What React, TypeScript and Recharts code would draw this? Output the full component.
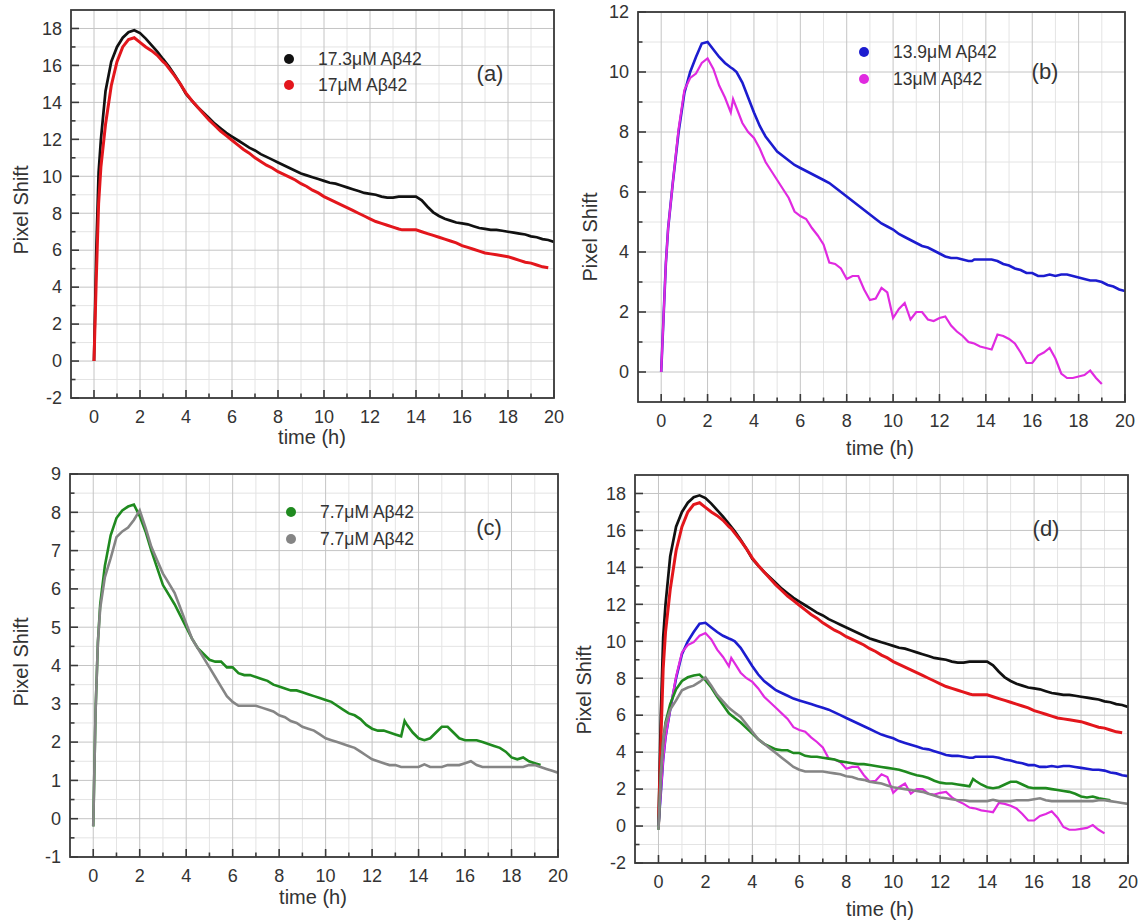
import { CartesianGrid, Line, LineChart, XAxis, YAxis } from "recharts";

// time grid shared by every trace (hours)
const hours = [
  0, 0.1, 0.2, 0.3, 0.5, 0.75, 1, 1.25, 1.5, 1.75, 2, 2.25, 2.5, 2.75, 3, 3.1, 3.25, 3.5, 3.75, 4,
  4.25, 4.5, 4.75, 5, 5.25, 5.5, 5.75, 6, 6.25, 6.5, 6.75, 7, 7.25, 7.5, 7.75, 8, 8.25, 8.5, 8.75, 9,
  9.25, 9.5, 9.75, 10, 10.25, 10.5, 10.75, 11, 11.25, 11.5, 11.75, 12, 12.25, 12.5, 12.75, 13, 13.25,
  13.4, 13.5, 13.75, 14, 14.25, 14.5, 14.75, 15, 15.25, 15.5, 15.75, 16, 16.25, 16.5, 16.75, 17,
  17.25, 17.5, 17.75, 18, 18.25, 18.5, 18.75, 19, 19.25, 19.5, 19.75, 20
];

const shift173 = [
  0, 6.0, 10.2, 12.0, 14.6, 16.2, 17.0, 17.5, 17.8, 17.9, 17.75, 17.45, 17.1, 16.75, 16.35, 16.2, 15.95, 15.5, 15.0, 14.45,
  14.1, 13.75, 13.45, 13.15, 12.85, 12.6, 12.35, 12.15, 11.95, 11.75, 11.55, 11.4, 11.2, 11.05, 10.9, 10.75, 10.6, 10.45, 10.3, 10.15,
  10.05, 9.95, 9.85, 9.75, 9.65, 9.6, 9.5, 9.4, 9.3, 9.2, 9.1, 9.05, 9.0, 8.9, 8.85, 8.85, 8.9,
  8.9, 8.9, 8.9, 8.9, 8.7, 8.35, 8.05, 7.85, 7.7, 7.6, 7.5, 7.45, 7.4, 7.3, 7.2, 7.15,
  7.1, 7.1, 7.05, 7.0, 6.95, 6.9, 6.85, 6.75, 6.7, 6.6, 6.55, 6.45
];

const shift17 = [
  0, 4.5, 8.5, 10.5, 12.8, 14.9, 16.2, 17.0, 17.4, 17.5, 17.25, 17.0, 16.8, 16.55, 16.2, 16.1, 15.85, 15.45, 15.0, 14.5,
  14.1, 13.75, 13.4, 13.05, 12.75, 12.45, 12.2, 11.95, 11.7, 11.45, 11.25, 11.0, 10.8, 10.6, 10.45, 10.25, 10.1, 9.95, 9.8, 9.6,
  9.45, 9.25, 9.1, 8.9, 8.75, 8.6, 8.45, 8.3, 8.15, 8.0, 7.85, 7.7, 7.55, 7.45, 7.35, 7.25, 7.15,
  7.1, 7.1, 7.1, 7.1, 7.0, 6.9, 6.8, 6.7, 6.6, 6.5, 6.4, 6.25, 6.15, 6.05, 5.95, 5.85,
  5.8, 5.75, 5.7, 5.65, 5.55, 5.45, 5.35, 5.3, 5.2, 5.1, 5.05, null
];

const shift139 = [
  0, 1.8, 3.6, 4.8, 6.3, 8.0, 9.3, 10.0, 10.5, 10.95, 11.0, 10.75, 10.5, 10.3, 10.15, 10.1, 10.0, 9.65, 9.15, 8.65,
  8.2, 7.85, 7.6, 7.35, 7.2, 7.05, 6.9, 6.8, 6.7, 6.6, 6.5, 6.4, 6.3, 6.15, 6.0, 5.85, 5.7, 5.55, 5.4, 5.25,
  5.1, 4.95, 4.85, 4.75, 4.6, 4.5, 4.4, 4.3, 4.2, 4.15, 4.05, 3.95, 3.85, 3.8, 3.8, 3.75, 3.7,
  3.7, 3.75, 3.75, 3.75, 3.75, 3.7, 3.6, 3.55, 3.45, 3.4, 3.3, 3.3, 3.2, 3.2, 3.25, 3.2,
  3.25, 3.25, 3.2, 3.15, 3.1, 3.05, 3.05, 3.0, 2.9, 2.85, 2.75, 2.7
];

const shift13 = [
  0, 1.8, 3.6, 4.8, 6.3, 8.1, 9.4, 9.8, 9.95, 10.3, 10.45, 10.1, 9.55, 9.15, 8.65, 9.1, 8.8, 8.3, 8.0, 7.8,
  7.45, 7.0, 6.7, 6.4, 6.1, 5.8, 5.35, 5.2, 5.1, 4.8, 4.55, 4.25, 3.65, 3.6, 3.45, 3.1, 3.2, 3.2, 2.75, 2.4,
  2.45, 2.8, 2.65, 1.8, 2.1, 2.3, 1.75, 2.0, 2.0, 1.75, 1.7, 1.8, 1.85, 1.55, 1.35, 1.2, 1.0,
  0.97, 0.95, 0.85, 0.8, 0.75, 1.25, 1.2, 1.1, 0.95, 0.65, 0.3, 0.3, 0.55, 0.65, 0.8, 0.45,
  -0.05, -0.2, -0.2, -0.15, -0.1, 0.05, -0.2, -0.4, null, null, null, null
];

const shift77a = [
  -0.2, 2.8, 4.6, 5.6, 6.6, 7.4, 7.85, 8.05, 8.15, 8.2, 7.9, 7.5, 7.0, 6.55, 6.1, 6.0, 5.85, 5.6, 5.3, 5.0,
  4.7, 4.45, 4.3, 4.15, 4.1, 4.1, 3.95, 3.95, 3.8, 3.75, 3.75, 3.7, 3.65, 3.6, 3.5, 3.45, 3.4, 3.35, 3.35, 3.3,
  3.25, 3.2, 3.15, 3.1, 3.05, 2.95, 2.85, 2.75, 2.7, 2.6, 2.45, 2.35, 2.3, 2.3, 2.25, 2.2, 2.15,
  2.55, 2.45, 2.25, 2.1, 2.05, 2.1, 2.25, 2.4, 2.4, 2.25, 2.1, 2.05, 2.05, 2.05, 2.0, 1.95,
  1.9, 1.85, 1.75, 1.6, 1.55, 1.6, 1.5, 1.45, 1.4, null, null, null
];

const shift77b = [
  -0.2, 2.8, 4.6, 5.5, 6.3, 6.8, 7.35, 7.5, 7.6, 7.8, 8.05, 7.6, 7.1, 6.75, 6.4, 6.3, 6.15, 5.9, 5.5, 5.1,
  4.7, 4.45, 4.2, 3.95, 3.7, 3.45, 3.2, 3.05, 2.95, 2.95, 2.95, 2.95, 2.9, 2.85, 2.8, 2.7, 2.65, 2.55, 2.5, 2.4,
  2.35, 2.3, 2.2, 2.1, 2.05, 2.0, 1.95, 1.9, 1.85, 1.75, 1.65, 1.55, 1.5, 1.45, 1.4, 1.4, 1.35,
  1.35, 1.35, 1.35, 1.35, 1.42, 1.35, 1.35, 1.35, 1.4, 1.4, 1.4, 1.45, 1.5, 1.4, 1.35, 1.35,
  1.35, 1.35, 1.35, 1.35, 1.35, 1.35, 1.4, 1.4, 1.35, 1.3, 1.25, 1.2
];

const xMajor = [0, 2, 4, 6, 8, 10, 12, 14, 16, 18, 20];
const xMinor = [1, 3, 5, 7, 9, 11, 13, 15, 17, 19];
const yMajorA = [-2, 0, 2, 4, 6, 8, 10, 12, 14, 16, 18];
const yMinorA = [-1, 1, 3, 5, 7, 9, 11, 13, 15, 17];
const yMajorB = [0, 2, 4, 6, 8, 10, 12];
const yMinorB = [1, 3, 5, 7, 9, 11];
const yMajorC = [-1, 0, 1, 2, 3, 4, 5, 6, 7, 8, 9];
const yMinorC = [-0.5, 0.5, 1.5, 2.5, 3.5, 4.5, 5.5, 6.5, 7.5, 8.5];

const rows = hours.map((t, i) => ({
  t,
  s173: shift173[i],
  s17: shift17[i],
  s139: shift139[i],
  s13: shift13[i],
  s77a: shift77a[i],
  s77b: shift77b[i]
}));

const FONT = '"Liberation Sans", Arial, sans-serif';
const INK = "#333";
const FRAME = "#3a3a3a";

const traces: Record<string, { color: string; width: number; label: string }> = {
  s173: { color: "#111111", width: 2.7, label: "17.3\u03bcM A\u03b242" },
  s17: { color: "#e3161c", width: 3, label: "17\u03bcM A\u03b242" },
  s139: { color: "#1c1ccf", width: 2.6, label: "13.9\u03bcM A\u03b242" },
  s13: { color: "#e02ae0", width: 2.2, label: "13\u03bcM A\u03b242" },
  s77a: { color: "#1f8a1f", width: 2.6, label: "7.7\u03bcM A\u03b242" },
  s77b: { color: "#858585", width: 2.6, label: "7.7\u03bcM A\u03b242" }
};

type Side = "bottom" | "left" | "top" | "right";
type Frame = { x: number; y: number; w: number; h: number };

// inward tick marks; the bottom axis also outlines the plot frame
function makeTicks(side: Side, major: number[], margin: number, frame?: Frame) {
  return (props: any) => {
    const { x, y, payload, index } = props;
    const v = payload.value;
    const isMajor = major.includes(v);
    const len = isMajor ? 8 : 4.5;
    const mark = { stroke: FRAME, strokeWidth: 1.6 };
    if (side === "bottom") {
      const base = y - margin;
      return (
        <g>
          {index === 0 && frame && (
            <rect x={frame.x} y={frame.y} width={frame.w} height={frame.h} fill="none" stroke={FRAME} strokeWidth={1.8} />
          )}
          <line x1={x} x2={x} y1={base} y2={base - len} {...mark} />
          {isMajor && (
            <text x={x} y={y} dy="0.71em" textAnchor="middle" fontSize={18} fontFamily={FONT} fill={INK}>
              {v}
            </text>
          )}
        </g>
      );
    }
    if (side === "left") {
      const base = x + margin;
      return (
        <g>
          <line x1={base} x2={base + len} y1={y} y2={y} {...mark} />
          {isMajor && (
            <text x={x} y={y} dy="0.35em" textAnchor="end" fontSize={18} fontFamily={FONT} fill={INK}>
              {v}
            </text>
          )}
        </g>
      );
    }
    if (side === "top") {
      return <line x1={x} x2={x} y1={y} y2={y + len} {...mark} />;
    }
    return <line x1={x} x2={x - len} y1={y} y2={y} {...mark} />;
  };
}

type PanelProps = {
  box: [number, number, number, number];
  plot: [number, number, number, number];
  yDomain: [number, number];
  yMajor: number[];
  yMinor: number[];
  keys: string[];
  legend: string[];
  legendAt: [number, number, number];
  tag: string;
  tagAt: [number, number];
  yTitleAt: [number, number];
  xTitleAt: [number, number];
};

function Panel(p: PanelProps) {
  const [bx, by, bw, bh] = p.box;
  const [pl, pt, pr, pb] = p.plot;
  const yAxisW = 60;
  const xAxisH = 40;
  const margin = {
    top: pt - by,
    left: pl - bx - yAxisW,
    right: bx + bw - pr,
    bottom: by + bh - pb - xAxisH
  };
  const xDomain: [number, number] = [-1, 20];
  const xAll = [...xMajor, ...xMinor].sort((a, b) => a - b);
  const yAll = [...p.yMajor, ...p.yMinor].sort((a, b) => a - b);
  const frame: Frame = { x: pl - bx, y: pt - by, w: pr - pl, h: pb - pt };

  return (
    <>
      <div style={{ position: "absolute", left: bx, top: by }}>
        <LineChart width={bw} height={bh} data={rows} margin={margin}>
          <XAxis xAxisId="gmin" dataKey="t" type="number" domain={xDomain} ticks={xMinor} hide allowDataOverflow />
          <XAxis xAxisId="gmaj" dataKey="t" type="number" domain={xDomain} ticks={xMajor} hide allowDataOverflow />
          <YAxis yAxisId="gmin" type="number" domain={p.yDomain} ticks={p.yMinor} hide allowDataOverflow />
          <YAxis yAxisId="gmaj" type="number" domain={p.yDomain} ticks={p.yMajor} hide allowDataOverflow />
          <CartesianGrid xAxisId="gmin" yAxisId="gmin" stroke="#e4e4e4" strokeWidth={1} syncWithTicks />
          <CartesianGrid xAxisId="gmaj" yAxisId="gmaj" stroke="#c4c4c4" strokeWidth={1} syncWithTicks />
          <XAxis
            dataKey="t"
            type="number"
            domain={xDomain}
            ticks={xAll}
            interval={0}
            height={xAxisH}
            tickSize={0}
            tickMargin={12}
            tickLine={false}
            axisLine={false}
            tick={makeTicks("bottom", xMajor, 12, frame)}
            allowDataOverflow
          />
          <XAxis
            xAxisId="top"
            orientation="top"
            dataKey="t"
            type="number"
            domain={xDomain}
            ticks={xAll}
            interval={0}
            height={0}
            tickSize={0}
            tickMargin={0}
            tickLine={false}
            axisLine={false}
            tick={makeTicks("top", xMajor, 0)}
            allowDataOverflow
          />
          <YAxis
            type="number"
            domain={p.yDomain}
            ticks={yAll}
            interval={0}
            width={yAxisW}
            tickSize={0}
            tickMargin={9}
            tickLine={false}
            axisLine={false}
            tick={makeTicks("left", p.yMajor, 9)}
            allowDataOverflow
          />
          <YAxis
            yAxisId="right"
            orientation="right"
            type="number"
            domain={p.yDomain}
            ticks={yAll}
            interval={0}
            width={0}
            tickSize={0}
            tickMargin={0}
            tickLine={false}
            axisLine={false}
            tick={makeTicks("right", p.yMajor, 0)}
            allowDataOverflow
          />
          {p.keys.map((k) => (
            <Line
              key={k}
              dataKey={k}
              type="linear"
              stroke={traces[k].color}
              strokeWidth={traces[k].width}
              dot={false}
              activeDot={false}
              isAnimationActive={false}
            />
          ))}
        </LineChart>
      </div>
      {p.legend.map((k, i) => (
        <div key={k}>
          <div
            style={{
              position: "absolute",
              left: p.legendAt[0] - 5,
              top: p.legendAt[1] + i * p.legendAt[2] - 5,
              width: 10,
              height: 10,
              borderRadius: 5,
              background: traces[k].color
            }}
          />
          <div
            style={{
              position: "absolute",
              left: p.legendAt[0] + 29,
              top: p.legendAt[1] + i * p.legendAt[2] - 11,
              fontFamily: FONT,
              fontSize: 17.5,
              lineHeight: "22px",
              color: INK,
              whiteSpace: "nowrap"
            }}
          >
            {traces[k].label}
          </div>
        </div>
      ))}
      <div
        style={{
          position: "absolute",
          left: p.tagAt[0],
          top: p.tagAt[1],
          transform: "translate(-50%, -50%)",
          fontFamily: FONT,
          fontSize: 22,
          color: INK
        }}
      >
        {p.tag}
      </div>
      <div
        style={{
          position: "absolute",
          left: p.yTitleAt[0],
          top: p.yTitleAt[1],
          transform: "translate(-50%, -50%) rotate(-90deg)",
          fontFamily: FONT,
          fontSize: 20,
          color: INK,
          whiteSpace: "nowrap"
        }}
      >
        Pixel Shift
      </div>
      <div
        style={{
          position: "absolute",
          left: p.xTitleAt[0],
          top: p.xTitleAt[1],
          transform: "translate(-50%, -50%)",
          fontFamily: FONT,
          fontSize: 20,
          color: INK,
          whiteSpace: "nowrap"
        }}
      >
        time (h)
      </div>
    </>
  );
}

export default function App() {
  return (
    <div style={{ position: "absolute", left: 0, top: 0, width: 1143, height: 924, background: "#fff", overflow: "hidden" }}>
      <Panel
        box={[0, 0, 570, 460]}
        plot={[71, 10, 554, 398]}
        yDomain={[-2, 19]}
        yMajor={yMajorA}
        yMinor={yMinorA}
        keys={["s173", "s17"]}
        legend={["s173", "s17"]}
        legendAt={[289, 59, 26]}
        tag="(a)"
        tagAt={[490, 74]}
        yTitleAt={[21, 210]}
        xTitleAt={[312, 437]}
      />
      <Panel
        box={[570, 0, 573, 460]}
        plot={[638, 12, 1125, 402]}
        yDomain={[-1, 12]}
        yMajor={yMajorB}
        yMinor={yMinorB}
        keys={["s139", "s13"]}
        legend={["s139", "s13"]}
        legendAt={[864, 52, 27]}
        tag="(b)"
        tagAt={[1045, 72]}
        yTitleAt={[590, 237]}
        xTitleAt={[880, 448]}
      />
      <Panel
        box={[0, 460, 570, 464]}
        plot={[70, 474, 558, 857]}
        yDomain={[-1, 9]}
        yMajor={yMajorC}
        yMinor={yMinorC}
        keys={["s77a", "s77b"]}
        legend={["s77a", "s77b"]}
        legendAt={[291, 512, 27]}
        tag="(c)"
        tagAt={[489, 528]}
        yTitleAt={[21, 662]}
        xTitleAt={[313, 897]}
      />
      <Panel
        box={[570, 460, 573, 464]}
        plot={[635, 475, 1128, 863]}
        yDomain={[-2, 19]}
        yMajor={yMajorA}
        yMinor={yMinorA}
        keys={["s173", "s17", "s139", "s13", "s77a", "s77b"]}
        legend={[]}
        legendAt={[0, 0, 0]}
        tag="(d)"
        tagAt={[1046, 529]}
        yTitleAt={[584, 690]}
        xTitleAt={[880, 909]}
      />
    </div>
  );
}
